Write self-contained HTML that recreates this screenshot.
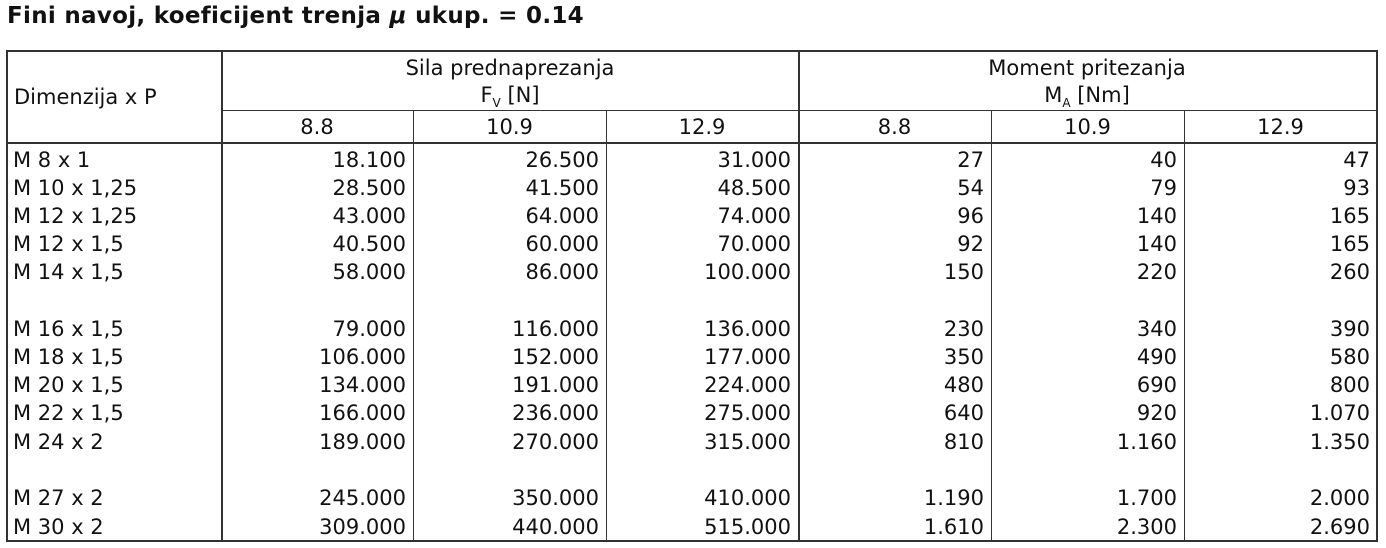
<!DOCTYPE html>
<html><head><meta charset="utf-8"><style>
body{margin:0;width:1386px;height:548px;background:#fff;position:relative;overflow:hidden;font-family:"DejaVu Sans","Liberation Sans",sans-serif;color:#111}
.t{position:absolute;font-size:21px;line-height:28px;white-space:nowrap}
.l{position:absolute;background:#333}
#title{position:absolute;left:7px;top:3px;font-size:23px;letter-spacing:0.3px;font-weight:bold;font-family:"DejaVu Sans",sans-serif;white-space:nowrap}
</style></head><body>
<div id="title">Fini navoj, koeficijent trenja <i>μ</i> ukup. = 0.14</div>
<div id="tbl"></div>
<script>
const dims=["M 8 x 1","M 10 x 1,25","M 12 x 1,25","M 12 x 1,5","M 14 x 1,5","M 16 x 1,5","M 18 x 1,5","M 20 x 1,5","M 22 x 1,5","M 24 x 2","M 27 x 2","M 30 x 2"];
const fv88=["18.100","28.500","43.000","40.500","58.000","79.000","106.000","134.000","166.000","189.000","245.000","309.000"];
const fv109=["26.500","41.500","64.000","60.000","86.000","116.000","152.000","191.000","236.000","270.000","350.000","440.000"];
const fv129=["31.000","48.500","74.000","70.000","100.000","136.000","177.000","224.000","275.000","315.000","410.000","515.000"];
const ma88=["27","54","96","92","150","230","350","480","640","810","1.190","1.610"];
const ma109=["40","79","140","140","220","340","490","690","920","1.160","1.700","2.300"];
const ma129=["47","93","165","165","260","390","580","800","1.070","1.350","2.000","2.690"];
const T=document.getElementById('tbl');
function line(x,y,w,h,n){const d=document.createElement('div');d.className='l';d.style.cssText=`left:${x}px;top:${y}px;width:${w}px;height:${h}px`;


T.appendChild(d);}
function txt(s,x,y,align,n,w){const d=document.createElement('div');d.className='t';d.textContent=s;
d.style.top=(y-14)+'px';
if(align==='r'){d.style.right=(1386-x)+'px';}else if(align==='c'){d.style.left=(x-w/2)+'px';d.style.width=w+'px';d.style.textAlign='center';}else d.style.left=x+'px';


T.appendChild(d);return d;}
const cols=[6,221,413,606,798,991,1184,1377];
line(6,50,1372,2,'table-border-top');line(6,540,1372,2,'table-border-bottom');
line(6,50,2,492,'table-border-left');line(1376,50,2,492,'table-border-right');
line(221,110,1156,1,'header-divider');line(6,142,1372,2,'header-bottom');
[221,798].forEach(x=>line(x,50,2,492,'group-divider'));
[413,606,991,1184].forEach(x=>line(x,110,1,432,'column-divider'));
txt("Dimenzija x P",14,97,'l','dimension-header');
txt("Sila prednaprezanja",510,68,'c','force-header',500);
const f=txt("",510,95,'c','force-unit',500);f.innerHTML='F<sub style="font-size:12px">V</sub> [N]';
txt("Moment pritezanja",1087,68,'c','moment-header',500);
const m=txt("",1087,95,'c','moment-unit',500);m.innerHTML='M<sub style="font-size:12px">A</sub> [Nm]';
const grades=["8.8","10.9","12.9","8.8","10.9","12.9"];
grades.forEach((g,i)=>txt(g,(cols[i+1]+cols[i+2])/2,127,'c','grade-header',190));
const ys=[160,188,216,244,272,329,357,385,413,442,498,527];
const series=[fv88,fv109,fv129,ma88,ma109,ma129];
dims.forEach((d,r)=>{
 txt(d,13,ys[r],'l','dimension-cell');
 series.forEach((s,c)=>txt(s[r],cols[c+2]-7,ys[r],'r','value-cell'));
});
</script>
</body></html>
